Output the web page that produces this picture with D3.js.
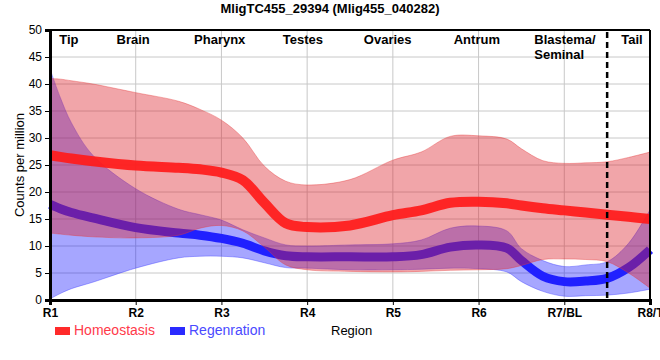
<!DOCTYPE html>
<html><head><meta charset="utf-8">
<script src="https://cdn.jsdelivr.net/npm/d3@7"></script>
<style>
body{margin:0;background:#fff;}
svg{font-family:"Liberation Sans",Arial,sans-serif;}
</style></head>
<body><svg id="c" width="660" height="360"></svg>
<script>
const regions = ["R1","R2","R3","R4","R5","R6","R7/BL","R8/T"];
const tissues = ["Tip","Brain","Pharynx","Testes","Ovaries","Antrum","Blastema/|Seminal","Tail"];
const tissuePos = [1.22,1.97,2.98,3.95,4.94,5.98,6.65,7.79];
const yTicks = [0,5,10,15,20,25,30,35,40,45,50];
const pos = [1,1.12,1.25,1.5,2,2.5,2.75,3,3.25,3.5,3.75,4,4.5,5,5.33,5.67,6,6.33,6.5,6.75,7,7.25,7.5,7.75,8];
const homeoMean = [26.8,26.5,26.2,25.7,24.9,24.5,24.2,23.6,22.2,18.0,14.2,13.5,13.8,15.7,16.6,18.0,18.2,17.9,17.5,17.0,16.6,16.2,15.8,15.4,15.0];
const homeoHi = [41.0,40.9,40.6,40.0,38.4,36.8,35.3,33.3,30.0,24.8,22.0,21.3,22.3,25.9,27.4,30.3,30.4,29.8,28.0,25.8,25.3,25.4,25.6,26.4,27.4];
const homeoLo = [12.4,12.2,12.0,11.7,11.5,12.0,13.3,13.8,12.8,9.8,6.5,5.6,5.3,5.2,5.3,5.5,5.6,5.8,6.4,7.5,7.6,7.5,7.1,5.0,2.2];
const regenMean = [17.7,16.9,16.2,15.2,13.4,12.4,12.0,11.4,10.5,9.1,8.2,8.0,8.0,8.0,8.4,9.8,10.2,9.6,7.3,4.4,3.4,3.5,4.0,6.0,9.3];
const regenHi = [42.8,37.5,32.8,26.8,20.6,16.8,15.8,14.8,13.0,11.5,10.2,10.0,10.2,10.4,11.1,13.3,13.7,12.8,9.5,7.3,6.2,6.5,7.1,10.5,16.7];
const regenLo = [0.2,1.2,2.1,3.3,5.9,7.8,8.1,8.1,7.8,6.9,6.0,5.9,5.6,5.6,5.7,5.9,5.8,5.2,3.4,1.6,0.7,0.8,0.9,1.3,2.0];
const dividerPos = 7.5;

const svg = d3.select("#c");
const L=50,R=650,T=30,B=300;
const x = d3.scaleLinear().domain([1,8]).range([L,R]);
const y = d3.scaleLinear().domain([0,50]).range([B,T]);

// grid
svg.append("g").selectAll("line.h").data(yTicks).join("line")
  .attr("x1",L).attr("x2",R).attr("y1",d=>y(d)).attr("y2",d=>y(d))
  .attr("stroke","#c8c8c8").attr("stroke-width",1);
svg.append("g").selectAll("line.v").data(regions).join("line")
  .attr("x1",(d,i)=>x(i+1)).attr("x2",(d,i)=>x(i+1)).attr("y1",T).attr("y2",B)
  .attr("stroke","#c8c8c8").attr("stroke-width",1);

const curve = d3.curveCatmullRom.alpha(0.5);
const idx = d3.range(pos.length);
const band = (lo,hi)=>d3.area().x(i=>x(pos[i])).y0(i=>y(lo[i])).y1(i=>y(hi[i])).curve(curve);
const line = (m)=>d3.line().x(i=>x(pos[i])).y(i=>y(m[i])).curve(curve);

svg.append("path").datum(idx).attr("d",band(regenLo,regenHi))
  .attr("fill","rgb(0,0,255)").attr("fill-opacity",0.35)
  .attr("stroke","rgb(60,60,255)").attr("stroke-opacity",0.4).attr("stroke-width",1);
svg.append("path").datum(idx).attr("d",line(regenMean))
  .attr("fill","none").attr("stroke","#2020ff").attr("stroke-width",9);
svg.append("path").datum(idx).attr("d",band(homeoLo,homeoHi))
  .attr("fill","rgb(220,30,40)").attr("fill-opacity",0.4)
  .attr("stroke","rgb(230,60,60)").attr("stroke-opacity",0.4).attr("stroke-width",1);
svg.append("path").datum(idx).attr("d",line(homeoMean))
  .attr("fill","none").attr("stroke","#ff1a1a").attr("stroke-opacity",0.92).attr("stroke-width",10);

// divider
svg.append("line").attr("x1",x(dividerPos)).attr("x2",x(dividerPos)).attr("y1",T+2).attr("y2",B)
  .attr("stroke","#000").attr("stroke-width",2.5).attr("stroke-dasharray","6,4");

// frame
svg.append("line").attr("x1",L).attr("x2",R).attr("y1",T).attr("y2",T).attr("stroke","#000").attr("stroke-width",2);
svg.append("line").attr("x1",R).attr("x2",R).attr("y1",T).attr("y2",B).attr("stroke","#000").attr("stroke-width",2);

// axes
const yAxis = svg.append("g").attr("transform",`translate(${L},0)`)
  .call(d3.axisLeft(y).tickValues(yTicks).tickSize(5).tickPadding(3));
yAxis.select(".domain").attr("stroke-width",3);
yAxis.selectAll("text").attr("font-size",12).attr("fill","#000").attr("font-family","Liberation Sans, Arial");
const xAxis = svg.append("g").attr("transform",`translate(0,${B})`)
  .call(d3.axisBottom(x).tickValues(d3.range(1,9)).tickFormat(d=>regions[d-1]).tickSize(5).tickPadding(3));
xAxis.select(".domain").attr("stroke-width",3);
xAxis.selectAll("text").attr("font-size",12).attr("font-weight","bold").attr("fill","#000").attr("font-family","Liberation Sans, Arial");

// tissue labels
tissues.forEach((t,i)=>{
  const parts = t.split("|");
  const txt = svg.append("text").attr("font-size",13).attr("font-weight","bold")
    .attr("text-anchor", parts.length>1 ? "start" : "middle")
    .attr("x", x(tissuePos[i])).attr("y",44);
  parts.forEach((p,j)=>txt.append("tspan").attr("x",x(tissuePos[i])).attr("dy", j===0?0:15).text(p));
});

// title
svg.append("text").attr("x",330).attr("y",13).attr("text-anchor","middle")
  .attr("font-size",13).attr("font-weight","bold").text("MligTC455_29394 (Mlig455_040282)");
// y label
svg.append("text").attr("transform","translate(24,165) rotate(-90)").attr("text-anchor","middle")
  .attr("font-size",13).text("Counts per million");

// legend
const legend = [{name:"Homeostasis",c:"#ff2a2a",tc:"#ff3a4a",x:55},{name:"Regenration",c:"#2a2aff",tc:"#4a4aff",x:170}];
legend.forEach(l=>{
  svg.append("rect").attr("x",l.x).attr("y",327).attr("width",15).attr("height",8).attr("fill",l.c);
  svg.append("text").attr("x",l.x+19).attr("y",335).attr("font-size",14).attr("fill",l.tc).text(l.name);
});
svg.append("text").attr("x",331).attr("y",335).attr("font-size",13).attr("fill","#000").text("Region");
</script></body></html>
